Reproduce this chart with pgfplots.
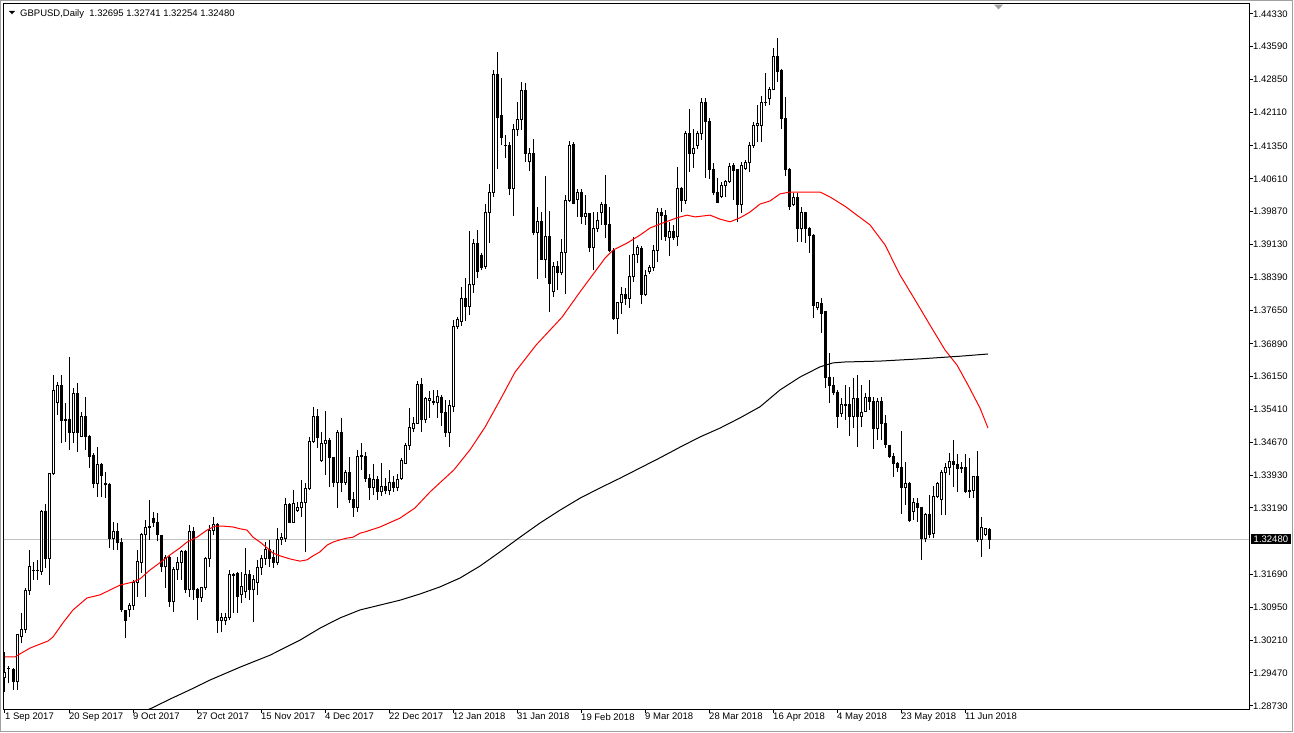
\documentclass[border=0pt]{standalone}
\usepackage{fontspec}
\setmainfont{Liberation Sans}
\usepackage{pgfplots}
\usepackage{pgfplotstable}
\pgfplotsset{compat=1.18}
\definecolor{pricegray}{RGB}{192,192,192}
\definecolor{wingray}{RGB}{160,160,160}
\definecolor{mared}{RGB}{255,0,0}

\pgfplotstableread{
i O H L C
0 1.2936 1.2994 1.2904 1.2947
1 1.2956 1.2963 1.2924 1.2958
2 1.2954 1.2958 1.2909 1.2927
3 1.2927 1.2999 1.2909 1.3033
4 1.3030 1.3082 1.3014 1.3046
5 1.3046 1.3139 1.3037 1.3132
6 1.3132 1.3224 1.3123 1.3186
7 1.3177 1.3197 1.3157 1.3179
8 1.3179 1.3202 1.3157 1.3177
9 1.3175 1.3314 1.3168 1.3310
10 1.3310 1.3328 1.3184 1.3204
11 1.3204 1.3398 1.3145 1.3396
12 1.3396 1.3619 1.3393 1.3583
13 1.3556 1.3603 1.3528 1.3594
14 1.3594 1.3619 1.3465 1.3515
15 1.3519 1.3556 1.3468 1.3515
16 1.3519 1.3659 1.3450 1.3490
17 1.3490 1.3589 1.3465 1.3576
18 1.3576 1.3601 1.3445 1.3490
19 1.3481 1.3535 1.3479 1.3526
20 1.3526 1.3569 1.3450 1.3479
21 1.3479 1.3483 1.3409 1.3436
22 1.3438 1.3443 1.3364 1.3375
23 1.3375 1.3456 1.3344 1.3416
24 1.3416 1.3420 1.3344 1.3391
25 1.3371 1.3400 1.3341 1.3373
26 1.3371 1.3375 1.3229 1.3251
27 1.3251 1.3287 1.3224 1.3265
28 1.3265 1.3285 1.3224 1.3240
29 1.3240 1.3251 1.3084 1.3089
30 1.3087 1.3089 1.3026 1.3066
31 1.3089 1.3105 1.3073 1.3098
32 1.3098 1.3157 1.3089 1.3152
33 1.3152 1.3224 1.3118 1.3199
34 1.3197 1.3262 1.3172 1.3258
35 1.3258 1.3292 1.3118 1.3274
36 1.3274 1.3337 1.3247 1.3276
37 1.3296 1.3310 1.3276 1.3287
38 1.3287 1.3308 1.3244 1.3258
39 1.3256 1.3258 1.3175 1.3186
40 1.3186 1.3213 1.3139 1.3208
41 1.3208 1.3213 1.3096 1.3107
42 1.3107 1.3186 1.3084 1.3181
43 1.3181 1.3208 1.3157 1.3197
44 1.3197 1.3224 1.3157 1.3220
45 1.3220 1.3224 1.3127 1.3134
46 1.3134 1.3281 1.3118 1.3265
47 1.3265 1.3276 1.3111 1.3134
48 1.3136 1.3139 1.3066 1.3118
49 1.3118 1.3141 1.3107 1.3139
50 1.3139 1.3208 1.3134 1.3204
51 1.3204 1.3281 1.3186 1.3269
52 1.3269 1.3299 1.3258 1.3281
53 1.3281 1.3285 1.3037 1.3066
54 1.3066 1.3082 1.3039 1.3071
55 1.3066 1.3082 1.3055 1.3073
56 1.3073 1.3179 1.3066 1.3168
57 1.3168 1.3172 1.3082 1.3166
58 1.3172 1.3175 1.3082 1.3120
59 1.3123 1.3175 1.3105 1.3141
60 1.3130 1.3229 1.3116 1.3168
61 1.3168 1.3179 1.3111 1.3134
62 1.3134 1.3168 1.3062 1.3157
63 1.3152 1.3202 1.3123 1.3184
64 1.3184 1.3213 1.3168 1.3206
65 1.3206 1.3242 1.3190 1.3226
66 1.3226 1.3247 1.3186 1.3206
67 1.3208 1.3224 1.3184 1.3197
68 1.3195 1.3274 1.3190 1.3247
69 1.3247 1.3262 1.3235 1.3253
70 1.3251 1.3341 1.3242 1.3326
71 1.3326 1.3330 1.3285 1.3287
72 1.3287 1.3359 1.3285 1.3330
73 1.3314 1.3332 1.3310 1.3319
74 1.3319 1.3382 1.3299 1.3332
75 1.3332 1.3375 1.3220 1.3362
76 1.3362 1.3479 1.3359 1.3468
77 1.3468 1.3547 1.3465 1.3524
78 1.3524 1.3542 1.3454 1.3477
79 1.3425 1.3490 1.3423 1.3465
80 1.3465 1.3537 1.3393 1.3470
81 1.3470 1.3477 1.3366 1.3432
82 1.3432 1.3434 1.3366 1.3377
83 1.3377 1.3495 1.3319 1.3490
84 1.3490 1.3522 1.3355 1.3377
85 1.3377 1.3405 1.3371 1.3398
86 1.3398 1.3434 1.3330 1.3339
87 1.3339 1.3355 1.3299 1.3321
88 1.3321 1.3450 1.3310 1.3436
89 1.3438 1.3465 1.3405 1.3434
90 1.3436 1.3445 1.3377 1.3386
91 1.3386 1.3396 1.3337 1.3364
92 1.3364 1.3418 1.3348 1.3382
93 1.3382 1.3391 1.3337 1.3355
94 1.3355 1.3420 1.3346 1.3368
95 1.3368 1.3386 1.3350 1.3359
96 1.3359 1.3405 1.3348 1.3377
97 1.3377 1.3391 1.3355 1.3364
98 1.3364 1.3396 1.3357 1.3382
99 1.3386 1.3432 1.3382 1.3425
100 1.3420 1.3465 1.3418 1.3459
101 1.3459 1.3544 1.3450 1.3501
102 1.3499 1.3524 1.3490 1.3510
103 1.3510 1.3605 1.3509 1.3598
104 1.3598 1.3612 1.3490 1.3519
105 1.3519 1.3569 1.3510 1.3565
106 1.3562 1.3583 1.3522 1.3565
107 1.3560 1.3585 1.3551 1.3556
108 1.3556 1.3585 1.3522 1.3571
109 1.3569 1.3574 1.3504 1.3533
110 1.3533 1.3562 1.3479 1.3488
111 1.3488 1.3562 1.3456 1.3549
112 1.3547 1.3743 1.3535 1.3729
113 1.3729 1.3749 1.3722 1.3743
114 1.3740 1.3817 1.3729 1.3790
115 1.3790 1.3837 1.3740 1.3774
116 1.3774 1.3943 1.3754 1.3822
117 1.3822 1.3925 1.3804 1.3916
118 1.3916 1.3946 1.3837 1.3851
119 1.3889 1.3894 1.3855 1.3862
120 1.3864 1.4004 1.3858 1.3986
121 1.3986 1.4049 1.3916 1.4029
122 1.4031 1.4306 1.4020 1.4295
123 1.4295 1.4347 1.4083 1.4200
124 1.4203 1.4288 1.4137 1.4153
125 1.4137 1.4160 1.4108 1.4135
126 1.4135 1.4144 1.4024 1.4040
127 1.4040 1.4185 1.3977 1.4171
128 1.4171 1.4234 1.4157 1.4194
129 1.4194 1.4279 1.4171 1.4259
130 1.4259 1.4277 1.4099 1.4117
131 1.4099 1.4130 1.4079 1.4117
132 1.4117 1.4151 1.3934 1.3941
133 1.3941 1.3997 1.3835 1.3964
134 1.3964 1.3986 1.3878 1.3880
135 1.3880 1.4067 1.3837 1.3930
136 1.3930 1.3988 1.3761 1.3824
137 1.3806 1.3873 1.3795 1.3864
138 1.3864 1.3876 1.3810 1.3849
139 1.3849 1.3925 1.3844 1.3894
140 1.3894 1.4024 1.3801 1.4011
141 1.4011 1.4146 1.4009 1.4137
142 1.4139 1.4144 1.4004 1.4006
143 1.4015 1.4038 1.3975 1.4031
144 1.4031 1.4038 1.3959 1.3975
145 1.3977 1.4024 1.3957 1.3982
146 1.3982 1.3984 1.3896 1.3905
147 1.3905 1.3986 1.3855 1.3948
148 1.3948 1.3986 1.3941 1.3968
149 1.3984 1.4009 1.3957 1.4002
150 1.4002 1.4070 1.3928 1.3959
151 1.3957 1.3997 1.3896 1.3900
152 1.3900 1.3905 1.3743 1.3747
153 1.3747 1.3783 1.3711 1.3781
154 1.3781 1.3817 1.3756 1.3799
155 1.3799 1.3815 1.3776 1.3792
156 1.3792 1.3889 1.3770 1.3840
157 1.3840 1.3930 1.3828 1.3891
158 1.3891 1.3912 1.3871 1.3905
159 1.3903 1.3909 1.3779 1.3799
160 1.3801 1.3855 1.3797 1.3844
161 1.3851 1.3867 1.3846 1.3860
162 1.3860 1.3912 1.3853 1.3900
163 1.3900 1.3995 1.3873 1.3984
164 1.3984 1.3995 1.3923 1.3979
165 1.3979 1.3991 1.3921 1.3930
166 1.3928 1.3964 1.3887 1.3943
167 1.3943 1.3957 1.3923 1.3928
168 1.3930 1.4088 1.3910 1.4038
169 1.4038 1.4042 1.3986 1.4013
170 1.4013 1.4169 1.4004 1.4162
171 1.4162 1.4218 1.4076 1.4119
172 1.4119 1.4173 1.4085 1.4130
173 1.4137 1.4169 1.4128 1.4164
174 1.4164 1.4243 1.4148 1.4234
175 1.4234 1.4243 1.4063 1.4189
176 1.4189 1.4198 1.4061 1.4083
177 1.4083 1.4097 1.4024 1.4029
178 1.4029 1.4063 1.4006 1.4008
179 1.4022 1.4054 1.4018 1.4045
180 1.4045 1.4058 1.4020 1.4054
181 1.4054 1.4097 1.4051 1.4088
182 1.4090 1.4097 1.4013 1.4079
183 1.4081 1.4083 1.3964 1.4002
184 1.4002 1.4099 1.3984 1.4090
185 1.4085 1.4103 1.4081 1.4097
186 1.4097 1.4144 1.4076 1.4137
187 1.4137 1.4189 1.4130 1.4182
188 1.4180 1.4227 1.4144 1.4185
189 1.4182 1.4248 1.4144 1.4234
190 1.4232 1.4299 1.4225 1.4234
191 1.4243 1.4268 1.4227 1.4263
192 1.4263 1.4356 1.4261 1.4336
193 1.4336 1.4378 1.4279 1.4302
194 1.4304 1.4308 1.4173 1.4196
195 1.4196 1.4245 1.4067 1.4081
196 1.4081 1.4085 1.3991 1.3999
197 1.4002 1.4029 1.3999 1.4018
198 1.4018 1.4029 1.3918 1.3948
199 1.3948 1.3997 1.3918 1.3984
200 1.3984 1.3986 1.3916 1.3948
201 1.3948 1.3952 1.3894 1.3934
202 1.3934 1.3937 1.3747 1.3776
203 1.3770 1.3783 1.3765 1.3781
204 1.3779 1.3792 1.3713 1.3758
205 1.3761 1.3763 1.3589 1.3614
206 1.3614 1.3668 1.3556 1.3596
207 1.3596 1.3614 1.3574 1.3580
208 1.3580 1.3585 1.3499 1.3524
209 1.3531 1.3567 1.3524 1.3553
210 1.3553 1.3596 1.3517 1.3551
211 1.3553 1.3592 1.3481 1.3524
212 1.3524 1.3612 1.3499 1.3565
213 1.3565 1.3619 1.3456 1.3526
214 1.3526 1.3596 1.3501 1.3535
215 1.3537 1.3578 1.3535 1.3569
216 1.3569 1.3607 1.3540 1.3560
217 1.3558 1.3569 1.3452 1.3499
218 1.3499 1.3567 1.3472 1.3558
219 1.3558 1.3569 1.3472 1.3510
220 1.3510 1.3528 1.3454 1.3461
221 1.3459 1.3461 1.3432 1.3434
222 1.3434 1.3443 1.3389 1.3420
223 1.3420 1.3423 1.3400 1.3411
224 1.3411 1.3492 1.3305 1.3366
225 1.3366 1.3423 1.3326 1.3373
226 1.3373 1.3377 1.3288 1.3290
227 1.3312 1.3341 1.3292 1.3332
228 1.3330 1.3341 1.3287 1.3319
229 1.3319 1.3321 1.3202 1.3249
230 1.3249 1.3308 1.3242 1.3305
231 1.3305 1.3348 1.3251 1.3260
232 1.3262 1.3368 1.3251 1.3344
233 1.3344 1.3377 1.3341 1.3373
234 1.3337 1.3405 1.3303 1.3398
235 1.3398 1.3420 1.3303 1.3409
236 1.3409 1.3443 1.3393 1.3423
237 1.3423 1.3472 1.3366 1.3416
238 1.3416 1.3441 1.3355 1.3407
239 1.3411 1.3423 1.3398 1.3407
240 1.3409 1.3441 1.3353 1.3357
241 1.3359 1.3432 1.3341 1.3357
242 1.3359 1.3391 1.3341 1.3389
243 1.3389 1.3447 1.3242 1.3247
244 1.3247 1.3299 1.3208 1.3274
245 1.3260 1.3274 1.3256 1.3272
246 1.32695 1.32741 1.32254 1.32480
}\candles

\pgfplotstableread{
i p
0 1.2983
2.5 1.2983
3.75 1.2990
6.25 1.3003
8.75 1.3012
10.75 1.3019
12 1.3028
14.5 1.3060
17 1.3089
20.5 1.3116
23.75 1.3123
26.25 1.3134
28.75 1.3145
32 1.3152
33.75 1.3159
36.25 1.3179
39.25 1.3199
41.25 1.3213
43.75 1.3229
45.5 1.3242
48 1.3253
50.5 1.3269
52.5 1.3278
54.5 1.3278
57 1.3276
58.75 1.3272
60.5 1.3269
62 1.3253
63.75 1.3242
65.5 1.3229
67 1.3217
68.75 1.3211
71.25 1.3204
73.75 1.3199
75.5 1.3202
77 1.3211
78.75 1.3220
80.5 1.3235
82 1.3242
83.75 1.3247
85.5 1.3251
87 1.3253
88.75 1.3262
90 1.3265
93.75 1.3276
98.75 1.3296
102.5 1.3319
106.25 1.3355
112.25 1.3405
116.25 1.3450
120 1.3501
123.75 1.3562
127.5 1.3625
132.75 1.3686
139.25 1.3749
143.75 1.3806
150 1.3882
152 1.3900
155.5 1.3916
158.75 1.3934
161.25 1.3950
163.75 1.3959
168 1.3973
170.5 1.3979
172.5 1.3975
176.25 1.3979
178.75 1.3970
181.25 1.3964
183.75 1.3973
186.25 1.3986
188.75 1.4004
191.25 1.4011
193.75 1.4027
196.25 1.4031
203.75 1.4031
206.25 1.4020
210 1.3999
216.25 1.3957
220 1.3912
223.75 1.3844
227.5 1.3788
231.25 1.3731
235 1.3675
238 1.3641
240.75 1.3596
243.75 1.3544
245.75 1.3499
}\maRed

\pgfplotstableread{
i p
33.75 1.2857
36.75 1.2868
41.25 1.2888
46.25 1.2909
51.25 1.2931
58.75 1.2960
66.25 1.2987
73.75 1.3021
78.75 1.3048
83.75 1.3071
88.75 1.3089
93.75 1.3100
98.75 1.3111
103.75 1.3125
108.75 1.3141
113.75 1.3161
118.75 1.3188
123.75 1.3220
128.75 1.3253
133.75 1.3285
138.75 1.3314
143.75 1.3341
148.75 1.3364
153.75 1.3386
158.75 1.3409
163.75 1.3432
168.75 1.3456
173.75 1.3479
178.75 1.3499
183.75 1.3522
188.75 1.3547
193.75 1.3585
198.75 1.3614
203.75 1.3637
207 1.3646
210 1.3648
218.75 1.3650
228.75 1.3655
238.75 1.3661
245.75 1.3666
}\maBlack

\begin{document}
\begin{tikzpicture}
\fill[white] (0pt,0pt) rectangle (1294pt,732pt);
\draw[wingray, line width=1pt] (0.5pt,0.5pt) rectangle (1292pt,731.5pt);
\begin{axis}[
  at={(4pt,23pt)}, anchor=south west,
  scale only axis, width=1245pt, height=705pt,
  xmin=-0.25, xmax=311, ymin=1.28657, ymax=1.44550,
  clip mode=individual,
  axis line style={black, line width=1pt},
  tick style={black, line width=1pt},
  tick align=outside, major tick length=4pt,
  xtick pos=left, ytick pos=right, yticklabel pos=right,
  xtick={0,16,32,48,64,80,96,112,128,144,160,176,192,208,224,240},
  xticklabels={1 Sep 2017, 20 Sep 2017, 9 Oct 2017, 27 Oct 2017, 15 Nov 2017, 4 Dec 2017, 22 Dec 2017, 12 Jan 2018, 31 Jan 2018, 19 Feb 2018, 9 Mar 2018, 28 Mar 2018, 16 Apr 2018, 4 May 2018, 23 May 2018, 11 Jun 2018},
  ytick={1.28730,1.29470,1.30210,1.30950,1.31690,1.33190,1.33930,1.34670,1.35410,1.36150,1.36890,1.37650,1.38390,1.39130,1.39870,1.40610,1.41350,1.42110,1.42850,1.43590,1.44330},
  yticklabels={1.28730,1.29470,1.30210,1.30950,1.31690,1.33190,1.33930,1.34670,1.35410,1.36150,1.36890,1.37650,1.38390,1.39130,1.39870,1.40610,1.41350,1.42110,1.42850,1.43590,1.44330},
  xticklabel style={anchor=north west, inner sep=0pt, font=\fontsize{9.5}{11}\selectfont},
  yticklabel style={anchor=west, inner sep=0pt, font=\fontsize{9.5}{11}\selectfont},
  scaled y ticks=false,
]
% current price line
\addplot[pricegray, line width=1pt] coordinates {(-1,1.32480) (320,1.32480)};
% wicks
\addplot[black, line width=1pt, quiver={u=0, v=\thisrow{H}-\thisrow{L}}] table[x=i, y=L] {\candles};
% bodies
\addplot[black, line width=3pt, shorten <=-0.5pt, shorten >=-0.5pt, quiver={u=0, v=\thisrow{C}-\thisrow{O}}] table[x=i, y=O] {\candles};
% white interiors of rising candles
\addplot[white, line width=1pt, shorten <=0.5pt, shorten >=0.5pt, quiver={u=0, v=\thisrow{C}-\thisrow{O}},
  restrict expr to domain={\thisrow{C}-\thisrow{O}}{0.0003:1}] table[x=i, y=O] {\candles};
% moving averages
\addplot[mared, line width=1pt] table[x=i, y=p] {\maRed};
\addplot[black, line width=1pt] table[x=i, y=p] {\maBlack};
\node[fill=black, text=white, anchor=west, inner xsep=2.5pt, inner ysep=0pt, minimum height=10pt, xshift=2pt, font=\fontsize{9.5}{11}\selectfont] at (axis cs:311,1.32480) {1.32480};
\end{axis}
\fill[black] (9pt,721pt) -- (15pt,721pt) -- (12pt,717.7pt) -- cycle;
\node[anchor=base west, inner sep=0pt, font=\fontsize{9.5}{11}\selectfont] at (20pt,715.5pt) {GBPUSD,Daily\ \ 1.32695 1.32741 1.32254 1.32480};
\fill[wingray] (994pt,727.3pt) -- (1003pt,727.3pt) -- (998.5pt,722.7pt) -- cycle;
\end{tikzpicture}
\end{document}
